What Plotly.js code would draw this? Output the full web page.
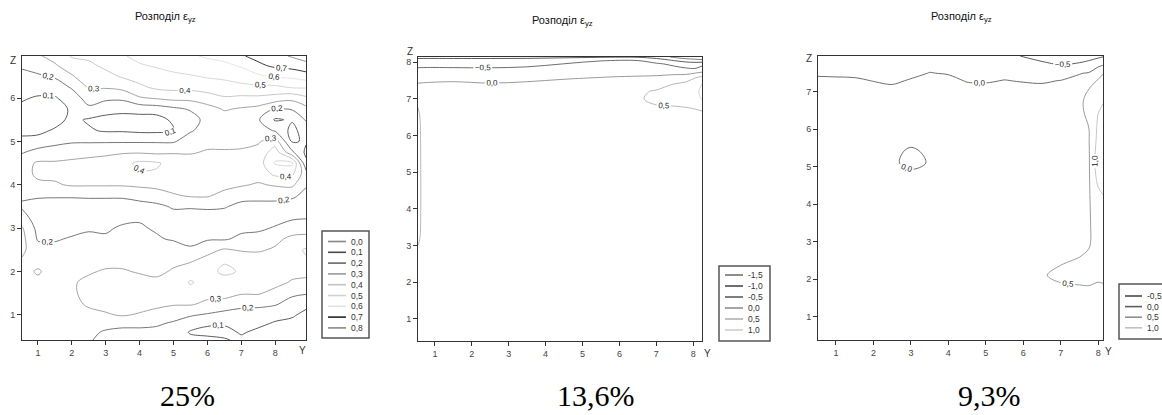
<!DOCTYPE html>
<html>
<head>
<meta charset="utf-8">
<script src="https://cdn.plot.ly/plotly-3.0.1.min.js"></script>
<style>html,body{margin:0;padding:0;background:#fff;}#chart{width:1162px;height:415px;}</style>
</head>
<body>
<div id="chart"></div>
<script>
// ---------- Panel 1 (25%) ----------
const p1Y = [0.53,1,1.5,2,2.5,3,3.5,4,4.5,5,5.5,6,6.5,7,7.5,8,8.5,8.91];
const p1Z = [0.42,0.6,0.8,1.0,1.25,1.5,1.75,2.0,2.25,2.5,2.75,3.0,3.25,3.5,3.75,4.0,4.25,4.5,4.75,5.0,5.25,5.5,5.75,6.0,6.25,6.5,6.75,6.97];
const p1Values = [
 [0.26,0.26,0.25,0.24,0.21,0.17,0.16,0.16,0.16,0.15,0.13,0.12,0.11,0.08,0.06,0.05,0.03,0.02],
 [0.26,0.26,0.25,0.25,0.22,0.19,0.18,0.18,0.18,0.17,0.09,0.08,0.07,0.11,0.08,0.07,0.05,0.04],
 [0.26,0.26,0.26,0.26,0.25,0.23,0.22,0.22,0.21,0.19,0.15,0.11,0.11,0.12,0.12,0.09,0.08,0.06],
 [0.26,0.26,0.27,0.27,0.28,0.29,0.31,0.29,0.27,0.23,0.21,0.19,0.16,0.17,0.16,0.13,0.11,0.08],
 [0.26,0.27,0.27,0.28,0.31,0.33,0.34,0.34,0.32,0.31,0.31,0.28,0.27,0.22,0.22,0.21,0.16,0.12],
 [0.26,0.27,0.27,0.29,0.32,0.34,0.35,0.36,0.34,0.34,0.36,0.33,0.33,0.31,0.31,0.27,0.22,0.21],
 [0.27,0.28,0.27,0.29,0.32,0.33,0.34,0.34,0.32,0.33,0.41,0.36,0.36,0.35,0.34,0.33,0.29,0.27],
 [0.27,0.31,0.26,0.28,0.29,0.31,0.31,0.29,0.28,0.31,0.35,0.37,0.42,0.39,0.35,0.35,0.33,0.34],
 [0.29,0.27,0.25,0.26,0.27,0.27,0.27,0.26,0.25,0.28,0.29,0.33,0.39,0.37,0.34,0.34,0.36,0.39],
 [0.32,0.24,0.23,0.24,0.25,0.24,0.25,0.24,0.23,0.25,0.21,0.27,0.31,0.29,0.29,0.31,0.37,0.41],
 [0.33,0.19,0.19,0.21,0.22,0.21,0.23,0.23,0.21,0.19,0.18,0.19,0.19,0.22,0.24,0.28,0.32,0.33],
 [0.31,0.17,0.16,0.17,0.19,0.19,0.21,0.21,0.19,0.18,0.16,0.15,0.16,0.18,0.18,0.21,0.26,0.26],
 [0.23,0.16,0.15,0.15,0.16,0.16,0.18,0.19,0.18,0.17,0.16,0.15,0.15,0.15,0.15,0.16,0.18,0.19],
 [0.19,0.17,0.16,0.16,0.17,0.17,0.17,0.17,0.18,0.21,0.21,0.22,0.21,0.17,0.17,0.17,0.15,0.15],
 [0.21,0.21,0.21,0.21,0.21,0.21,0.21,0.23,0.25,0.29,0.31,0.31,0.27,0.24,0.23,0.23,0.22,0.17],
 [0.25,0.29,0.29,0.31,0.31,0.31,0.31,0.32,0.33,0.34,0.34,0.34,0.33,0.31,0.29,0.31,0.32,0.21],
 [0.28,0.31,0.32,0.33,0.33,0.34,0.37,0.39,0.39,0.38,0.36,0.35,0.35,0.34,0.34,0.42,0.42,0.24],
 [0.27,0.31,0.31,0.32,0.33,0.34,0.37,0.42,0.41,0.37,0.35,0.34,0.34,0.34,0.35,0.51,0.52,0.12],
 [0.19,0.24,0.25,0.26,0.27,0.28,0.29,0.29,0.28,0.29,0.29,0.31,0.31,0.31,0.33,0.45,0.22,0.08],
 [0.12,0.13,0.17,0.19,0.19,0.19,0.19,0.19,0.19,0.19,0.25,0.27,0.27,0.28,0.29,0.35,0.09,0.11],
 [0.08,0.08,0.11,0.15,0.11,0.09,0.09,0.08,0.08,0.09,0.19,0.24,0.24,0.25,0.25,0.19,0.07,0.15],
 [0.07,0.06,0.07,0.12,0.09,0.07,0.06,0.06,0.06,0.12,0.16,0.23,0.25,0.25,0.21,0.09,0.11,0.21],
 [0.08,0.07,0.07,0.11,0.18,0.14,0.13,0.14,0.15,0.18,0.21,0.26,0.31,0.29,0.27,0.19,0.21,0.27],
 [0.11,0.09,0.09,0.15,0.24,0.22,0.22,0.29,0.31,0.33,0.33,0.36,0.39,0.38,0.38,0.36,0.33,0.38],
 [0.15,0.14,0.15,0.21,0.31,0.31,0.33,0.38,0.42,0.43,0.43,0.44,0.46,0.47,0.48,0.48,0.51,0.51],
 [0.18,0.19,0.21,0.29,0.36,0.37,0.41,0.44,0.46,0.48,0.49,0.51,0.52,0.55,0.58,0.61,0.62,0.65],
 [0.21,0.23,0.29,0.35,0.38,0.42,0.46,0.49,0.51,0.53,0.56,0.57,0.58,0.61,0.68,0.72,0.74,0.77],
 [0.26,0.29,0.33,0.41,0.42,0.46,0.49,0.53,0.55,0.57,0.59,0.61,0.63,0.69,0.73,0.77,0.81,0.84]
];
const p1Levels = [0.0,0.1,0.2,0.3,0.4,0.5,0.6,0.7,0.8];
const p1Colors = ['#888888','#4a4a4a','#686868','#9a9a9a','#c2c2c2','#d2d2d2','#e2e2e2','#252525','#888888'];
const p1ZTicks = [1,2,3,4,5,6];

// ---------- Panel 2 (13,6%) ----------
const p2Y = [0.54,0.8,1.5,2.5,3.5,4.5,5.5,6.5,7.0,7.5,7.8,8.05,8.24];
const p2Z = [0.4,1.0,2.0,2.7,3.2,4.0,5.0,6.0,6.5,6.75,7.0,7.2,7.4,7.6,7.8,7.95,8.05,8.14];
const p2Values = [
 [0.30,0.30,0.25,0.25,0.25,0.25,0.25,0.25,0.25,0.25,0.25,0.25,0.25],
 [0.30,0.30,0.25,0.25,0.25,0.25,0.25,0.25,0.25,0.25,0.25,0.25,0.25],
 [0.32,0.30,0.25,0.25,0.25,0.25,0.25,0.25,0.25,0.25,0.25,0.25,0.25],
 [0.42,0.30,0.25,0.25,0.25,0.25,0.25,0.25,0.25,0.25,0.25,0.25,0.25],
 [0.55,0.30,0.25,0.25,0.25,0.25,0.25,0.25,0.25,0.25,0.25,0.26,0.26],
 [0.58,0.30,0.25,0.25,0.25,0.25,0.25,0.25,0.25,0.25,0.25,0.26,0.27],
 [0.58,0.30,0.25,0.25,0.25,0.25,0.25,0.25,0.25,0.25,0.26,0.27,0.28],
 [0.57,0.30,0.25,0.25,0.25,0.25,0.25,0.25,0.27,0.28,0.29,0.30,0.32],
 [0.55,0.30,0.25,0.25,0.25,0.25,0.25,0.27,0.30,0.30,0.32,0.35,0.38],
 [0.51,0.30,0.25,0.25,0.25,0.25,0.25,0.30,0.45,0.45,0.48,0.52,0.56],
 [0.35,0.28,0.25,0.25,0.25,0.25,0.25,0.45,0.60,0.70,0.75,0.85,1.02],
 [0.22,0.20,0.20,0.18,0.20,0.22,0.22,0.42,0.55,0.65,0.78,0.90,1.08],
 [0.03,0.05,0.07,0.03,0.07,0.10,0.12,0.15,0.30,0.52,0.62,0.75,1.02],
 [-0.20,-0.17,-0.14,-0.18,-0.14,-0.05,-0.01,0.02,0.04,0.15,0.20,0.45,0.52],
 [-0.43,-0.42,-0.42,-0.43,-0.39,-0.30,-0.22,-0.20,-0.22,-0.35,-0.42,-0.45,-0.30],
 [-0.65,-0.64,-0.66,-0.66,-0.62,-0.49,-0.40,-0.38,-0.43,-0.60,-0.70,-0.72,-0.62],
 [-0.88,-0.87,-0.88,-0.88,-0.86,-0.75,-0.52,-0.51,-0.75,-1.05,-1.25,-1.35,-1.40],
 [-1.10,-1.10,-1.10,-1.10,-1.10,-1.08,-1.05,-1.05,-1.20,-1.60,-1.75,-1.80,-1.85]
];
const p2Levels = [-1.5,-1.0,-0.5,0.0,0.5,1.0];
const p2Colors = ['#707070','#4a4a4a','#5e5e5e','#8e8e8e','#b0b0b0','#cfcfcf'];
const p2ZTicks = [1,2,3,4,5,6,7,8];

// ---------- Panel 3 (9,3%) ----------
const p3Y = [0.52,1,1.5,2,2.5,3,3.5,4,4.5,5,5.5,6,6.5,7,7.5,7.75,8.0,8.13];
const p3Z = [0.37,1.0,1.5,1.8,2.1,2.5,3.0,3.5,4.0,4.5,4.8,5.1,5.4,5.7,6.0,6.5,6.8,7.1,7.3,7.5,7.7,7.96];
const p3Values = [
 [0.20,0.20,0.20,0.20,0.20,0.20,0.20,0.20,0.20,0.20,0.20,0.20,0.20,0.22,0.22,0.25,0.30,0.32],
 [0.20,0.20,0.20,0.20,0.20,0.20,0.20,0.20,0.20,0.20,0.20,0.20,0.22,0.25,0.25,0.30,0.35,0.36],
 [0.20,0.20,0.20,0.20,0.20,0.20,0.20,0.20,0.20,0.20,0.20,0.22,0.28,0.35,0.35,0.40,0.42,0.42],
 [0.20,0.20,0.20,0.20,0.20,0.20,0.20,0.20,0.20,0.20,0.20,0.24,0.35,0.45,0.48,0.49,0.45,0.47],
 [0.20,0.20,0.20,0.20,0.20,0.20,0.20,0.20,0.20,0.20,0.21,0.27,0.46,0.60,0.62,0.62,0.58,0.58],
 [0.20,0.20,0.20,0.20,0.20,0.20,0.20,0.20,0.20,0.20,0.20,0.24,0.32,0.45,0.53,0.58,0.65,0.68],
 [0.20,0.20,0.20,0.20,0.20,0.20,0.20,0.20,0.20,0.20,0.20,0.22,0.25,0.30,0.35,0.45,0.70,0.75],
 [0.20,0.20,0.20,0.20,0.20,0.20,0.20,0.20,0.20,0.20,0.20,0.21,0.24,0.25,0.33,0.44,0.75,0.82],
 [0.20,0.20,0.20,0.20,0.20,0.20,0.20,0.20,0.20,0.20,0.20,0.21,0.24,0.25,0.33,0.44,0.85,0.92],
 [0.20,0.20,0.20,0.20,0.20,0.20,0.20,0.20,0.20,0.20,0.20,0.21,0.24,0.25,0.33,0.44,1.02,1.08],
 [0.20,0.20,0.20,0.20,0.18,0.15,0.16,0.20,0.20,0.20,0.20,0.21,0.24,0.25,0.33,0.44,1.20,1.20],
 [0.20,0.20,0.20,0.20,0.13,-0.20,0.05,0.18,0.20,0.20,0.20,0.21,0.24,0.25,0.33,0.44,1.30,1.30],
 [0.20,0.20,0.20,0.20,0.15,-0.10,0.10,0.19,0.20,0.20,0.20,0.21,0.24,0.25,0.33,0.45,1.25,1.28],
 [0.20,0.20,0.20,0.20,0.20,0.15,0.18,0.20,0.20,0.20,0.20,0.21,0.24,0.25,0.35,0.47,1.15,1.20],
 [0.20,0.20,0.20,0.20,0.20,0.20,0.20,0.20,0.20,0.20,0.20,0.21,0.24,0.25,0.38,0.49,1.10,1.12],
 [0.20,0.20,0.20,0.20,0.20,0.20,0.20,0.20,0.20,0.20,0.20,0.21,0.24,0.25,0.45,0.56,0.98,1.05],
 [0.20,0.20,0.20,0.20,0.20,0.20,0.20,0.20,0.20,0.20,0.20,0.21,0.23,0.25,0.45,0.56,0.85,0.97],
 [0.20,0.20,0.20,0.10,0.06,0.12,0.15,0.15,0.08,0.07,0.10,0.08,0.07,0.10,0.25,0.49,0.70,0.80],
 [0.07,0.06,0.05,-0.01,-0.06,0.03,0.10,0.08,-0.02,-0.03,0.01,-0.02,-0.04,0.01,0.10,0.25,0.55,0.65],
 [-0.05,-0.06,-0.07,-0.10,-0.13,-0.08,0.01,-0.02,-0.10,-0.12,-0.08,-0.10,-0.20,-0.20,-0.02,0.03,0.25,0.48],
 [-0.15,-0.16,-0.17,-0.20,-0.22,-0.17,-0.08,-0.12,-0.20,-0.22,-0.20,-0.25,-0.38,-0.47,-0.40,-0.30,-0.05,0.02],
 [-0.30,-0.30,-0.30,-0.32,-0.33,-0.32,-0.28,-0.30,-0.33,-0.35,-0.40,-0.52,-0.65,-0.75,-0.72,-0.68,-0.62,-0.55]
];
const p3Levels = [-0.5,0.0,0.5,1.0];
const p3Colors = ['#4a4a4a','#5e5e5e','#8e8e8e','#c0c0c0'];
const p3ZTicks = [1,2,3,4,5,6,7];

const yTicks = [1,2,3,4,5,6,7,8];
const titleText = 'Розподіл ε<sub>yz</sub>';
const percentLabels = ['25%','13,6%','9,3%'];

// ---------- geometry helpers ----------
const W = 1162, H = 415;
const fx = p => p / W;
const fy = p => 1 - p / H;
const SANS = 'Liberation Sans, Arial, sans-serif';

function levelTraces(xs, ys, zs, levels, colors, ax) {
  return levels.map((lev, i) => ({
    type: 'contour', x: xs, y: ys, z: zs,
    xaxis: 'x' + ax, yaxis: 'y' + ax,
    autocontour: false,
    contours: {start: lev, end: lev, size: 1, coloring: 'none', showlabels: true,
               labelformat: '.1f', labelfont: {size: 8, color: '#222', family: SANS}},
    line: {color: colors[i], width: 0.9, smoothing: 1},
    showscale: false, showlegend: false, hoverinfo: 'skip'
  }));
}

const traces = [].concat(
  levelTraces(p1Y, p1Z, p1Values, p1Levels, p1Colors, ''),
  levelTraces(p2Y, p2Z, p2Values, p2Levels, p2Colors, '2'),
  levelTraces(p3Y, p3Z, p3Values, p3Levels, p3Colors, '3')
);

function axis(domain, range, ticks, anchor) {
  return {domain: domain, range: range, anchor: anchor, tickmode: 'array', tickvals: ticks,
    showgrid: false, zeroline: false, showline: true, linecolor: '#333', linewidth: 1, mirror: true,
    ticks: 'outside', ticklen: 4, tickcolor: '#333',
    tickfont: {size: 9, color: '#444', family: SANS}, fixedrange: true};
}

const shapes = [];
const annotations = [];

function legend(levels, colors, box, x0, y0, dy, len) {
  shapes.push({type: 'rect', xref: 'paper', yref: 'paper',
    x0: fx(box[0]), x1: fx(box[2]), y0: fy(box[3]), y1: fy(box[1]),
    line: {color: '#555', width: 1.5}, fillcolor: 'rgba(0,0,0,0)'});
  levels.forEach((lev, i) => {
    const y = y0 + i * dy;
    shapes.push({type: 'line', xref: 'paper', yref: 'paper',
      x0: fx(x0), x1: fx(x0 + len), y0: fy(y), y1: fy(y),
      line: {color: colors[i], width: 1.6}});
    annotations.push({xref: 'paper', yref: 'paper', x: fx(x0 + len + 3), y: fy(y),
      xanchor: 'left', yanchor: 'middle', showarrow: false,
      text: lev.toFixed(1).replace('.', ','), font: {size: 8.5, color: '#333', family: SANS}});
  });
}
legend(p1Levels, p1Colors, [322, 231, 369, 338], 328, 241.5, 10.8, 18);
legend(p2Levels, p2Colors, [719, 266, 770, 341], 725, 275, 11, 18);
legend(p3Levels, p3Colors, [1119, 284, 1175, 339], 1125, 296, 10.6, 17);

// titles
[[165, 17], [562, 21], [961, 17]].forEach(p => annotations.push({xref: 'paper', yref: 'paper',
  x: fx(p[0]), y: fy(p[1]), xanchor: 'center', yanchor: 'middle', showarrow: false,
  text: titleText, font: {size: 11, color: '#111', family: SANS}}));
// axis letters
[[13, 60], [410, 52], [809, 59]].forEach(p => annotations.push({xref: 'paper', yref: 'paper',
  x: fx(p[0]), y: fy(p[1]), xanchor: 'center', yanchor: 'middle', showarrow: false,
  text: 'Z', font: {size: 10, color: '#333', family: SANS}}));
[[303, 350], [708, 353], [1108, 351]].forEach(p => annotations.push({xref: 'paper', yref: 'paper',
  x: fx(p[0]), y: fy(p[1]), xanchor: 'center', yanchor: 'middle', showarrow: false,
  text: 'Y', font: {size: 10, color: '#333', family: SANS}}));
// percentages
[[187, 395], [596, 395], [989, 395]].forEach((p, i) => annotations.push({xref: 'paper', yref: 'paper',
  x: fx(p[0]), y: fy(p[1]), xanchor: 'center', yanchor: 'middle', showarrow: false,
  text: percentLabels[i], font: {size: 30, color: '#000', family: 'Liberation Serif, Times New Roman, serif'}}));

const layout = {
  width: W, height: H, margin: {l: 0, r: 0, t: 0, b: 0},
  paper_bgcolor: '#fff', plot_bgcolor: '#fff', showlegend: false,
  separators: ', ',
  xaxis: axis([fx(22), fx(306)], [0.53, 8.91], yTicks, 'y'),
  yaxis: axis([fy(340), fy(56)], [0.42, 6.97], p1ZTicks, 'x'),
  xaxis2: axis([fx(418), fx(702)], [0.54, 8.24], yTicks, 'y2'),
  yaxis2: axis([fy(341), fy(57)], [0.4, 8.14], p2ZTicks, 'x2'),
  xaxis3: axis([fx(818), fx(1103)], [0.52, 8.13], yTicks, 'y3'),
  yaxis3: axis([fy(340), fy(56)], [0.37, 7.96], p3ZTicks, 'x3'),
  shapes: shapes, annotations: annotations
};

Plotly.newPlot('chart', traces, layout, {staticPlot: true, displayModeBar: false});
</script>
</body>
</html>
